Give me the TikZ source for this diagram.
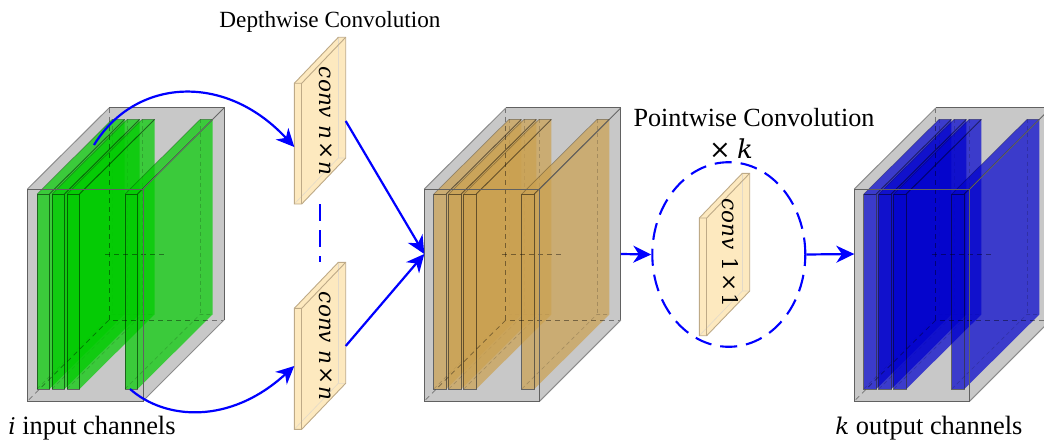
\documentclass[tikz,border=0pt]{standalone}
\usepackage{fontspec}
\setmainfont{Liberation Serif}
\newfontfamily\mfam{DejaVu Serif}
\usetikzlibrary{arrows.meta,shapes.geometric}
\definecolor{cubegray}{RGB}{200,200,200}
\definecolor{platefill}{RGB}{253,233,191}
\definecolor{plateedge}{RGB}{190,170,135}
\definecolor{sheetgreen}{RGB}{0,204,0}
\definecolor{sheetorange}{RGB}{203,161,80}
\definecolor{sheetblue}{RGB}{0,0,205}
\tikzset{
  x=0.5pt,y=-0.5pt,
  cubeline/.style={draw=black!62,line width=0.5pt},
  cubehid/.style={draw=black,draw opacity=0.42,line width=0.35pt,dash pattern=on 2.5pt off 2pt},
  sheetface/.style={fill=#1,fill opacity=0.7,draw=none},
  sheetedge/.style={draw=black,draw opacity=0.5,line width=0.45pt},
  sheetfaint/.style={draw=black,draw opacity=0.28,line width=0.35pt},
  sheethid/.style={draw=black,draw opacity=0.18,line width=0.3pt,dash pattern=on 2pt off 1.5pt},
  flow/.style={draw=blue,line width=1.1pt,-{Stealth[length=9pt,width=8.5pt,inset=2.8pt]}},
  dashblue/.style={draw=blue,line width=1.05pt,dash pattern=on 8.5pt off 4.5pt},
  label/.style={inner sep=0pt},
  platetext/.style={font=\fontsize{10.8}{12}\selectfont\mfam,inner sep=0pt,rotate=-90},
}
\newcommand\mysheet[2]{%
  \path[sheetface=#2] (#1+12.5,194) -- (#1+87.5,119.5) -- (#1+87.5,314.5) -- (#1+12.5,389) -- cycle;
  \path[sheetface=#2] (#1,194) -- (#1+75,119.5) -- (#1+87.5,119.5) -- (#1+12.5,194) -- cycle;
  \path[sheetface=#2] (#1,194) rectangle (#1+12.5,389);
  \draw[sheethid] (#1,389) -- (#1+75,314.5) -- (#1+87.5,314.5);
  \draw[sheethid] (#1+75,119.5) -- (#1+75,314.5);
  \draw[sheetfaint] (#1,194) -- (#1+75,119.5) -- (#1+87.5,119.5);
  \draw[sheetedge] (#1+12.5,194) -- (#1+87.5,119.5);
  \draw[sheetedge] (#1,194) rectangle (#1+12.5,389);
}
\newcommand\mycube[3]{%
  \begin{scope}[shift={(#1,0)}]
    \fill[cubegray] (27.5,189) -- (109,108) -- (224,108) -- (224,320) -- (143,401) -- (27.5,401) -- cycle;
    \mysheet{37}{#2}
    \mysheet{52}{#2}
    \mysheet{67}{#2}
    \mysheet{125}{#2}
    \draw[cubehid] (109,108) -- (109,320) -- (224,320);
    \draw[cubehid] (109,320) -- (27.5,401);
    \draw[cubehid] (105,254) -- (166,254);
    \draw[draw=black!45,line width=0.5pt] (27.5,189) -- (109,108);
    \draw[cubeline] (109,108) -- (224,108) -- (224,320);
    \draw[draw=black!45,line width=0.5pt] (143,401) -- (224,320);
    \draw[draw=black!60,line width=0.4pt] (143,189) -- (224,108);
    \draw[cubeline] (27.5,189) rectangle (143,401);
    \coordinate (#3w) at (27.5,254);
    \coordinate (#3e) at (224,254);
  \end{scope}}
% x, top of front face, height, depth x, depth y, name
\newcommand\myplate[6]{%
  \begin{scope}[shift={(#1,#2)}]
    \fill[platefill] (0,0) -- (#4,-#5) -- (#4+7.4,-#5) -- (#4+7.4,#3-#5) -- (7.4,#3) -- (0,#3) -- cycle;
    \draw[draw=plateedge!45,line width=0.3pt] (0,#3) -- (#4,#3-#5) -- (#4+7.4,#3-#5);
    \draw[draw=plateedge!45,line width=0.3pt] (#4,-#5) -- (#4,#3-#5);
    \draw[draw=plateedge,line width=0.45pt] (0,0) -- (#4,-#5) -- (#4+7.4,-#5) -- (#4+7.4,#3-#5) -- (7.4,#3) -- (0,#3) -- cycle;
    \draw[draw=plateedge,line width=0.45pt] (0,0) -- (7.4,0) -- (#4+7.4,-#5);
    \draw[draw=plateedge,line width=0.45pt] (7.4,0) -- (7.4,#3);
  \end{scope}}
\newcommand\mvar[1]{{\mfam\itshape #1}}
\begin{document}
\begin{tikzpicture}
\useasboundingbox (0,0) rectangle (1044,444);
\mycube{0}{sheetgreen}{cubeA}
\mycube{396.8}{sheetorange}{cubeB}
\mycube{826.8}{sheetblue}{cubeC}
\myplate{294.3}{83.3}{120.7}{44}{46}{plateA}
\myplate{294.3}{308.3}{121}{44}{46}{plateB}
\myplate{699.3}{218}{117.7}{43}{44.7}{plateC}
\node[platetext] (convA) at (326,121) {\mvar{conv}\hspace{3.5pt}\mvar{n}\hspace{1pt}×\hspace{1pt}\mvar{n}};
\node[platetext] (convB) at (326,346) {\mvar{conv}\hspace{3.5pt}\mvar{n}\hspace{1pt}×\hspace{1pt}\mvar{n}};
\node[platetext] (convC) at (730,253) {\mvar{conv}\hspace{4pt}1\hspace{1pt}×\hspace{1pt}1};
\node[label,font=\fontsize{11.6}{14}\selectfont] (titleA) at (330,22) {Depthwise Convolution};
\node[label,font=\fontsize{13.1}{15}\selectfont] (titleB) at (754,118) {Pointwise Convolution};
\node[label,font=\fontsize{13}{14}\selectfont\mfam] (timesk) at (731,149) {×\hspace{3pt}\mvar{k}};
\node[label,anchor=west,font=\fontsize{13.2}{15}\selectfont] (inlabel) at (8,428) {\mvar{\fontsize{11.5}{15}\selectfont i} input channels};
\node[label,anchor=west,font=\fontsize{13.2}{15}\selectfont] (outlabel) at (835,428) {\mvar{\fontsize{11.5}{15}\selectfont k} output channels};
\node[dashblue,shape=ellipse,minimum width=76.5pt,minimum height=92.3pt,inner sep=0pt] (loop) at (728.8,254.5) {};
\coordinate (topstart) at (94,145);
\coordinate (botstart) at (130,389);
\coordinate (planeA) at (294.3,147);
\coordinate (planeB) at (294.3,366);
\coordinate (planeAout) at (345.7,121);
\coordinate (planeBout) at (345.7,346);
\coordinate (dashtop) at (320,204);
\coordinate (dashbot) at (320,262);
\draw[flow] (topstart) .. controls (135,78) and (225,72) .. (planeA);
\draw[flow] (botstart) .. controls (165,420) and (230,425) .. (planeB);
\draw[flow] (planeAout) -- (cubeBw);
\draw[flow] (planeBout) -- (cubeBw);
\draw[dashblue] (dashtop) -- (dashbot);
\draw[flow] (cubeBe) -- (loop.west);
\draw[flow] (loop.east) -- (cubeCw);
\end{tikzpicture}
\end{document}
